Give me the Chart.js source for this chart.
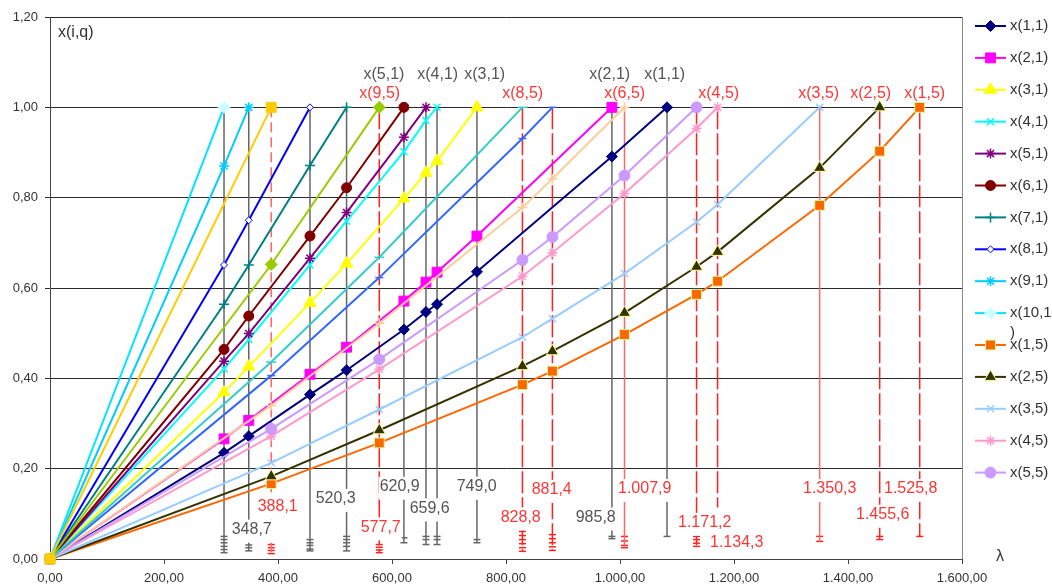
<!DOCTYPE html>
<html>
<head>
<meta charset="utf-8">
<script src="https://cdn.jsdelivr.net/npm/chart.js@4/dist/chart.umd.min.js"></script>
<style>
  html, body { margin: 0; padding: 0; background: #fff; }
  #wrap { width: 1052px; height: 588px; }
</style>
</head>
<body>
<div id="wrap"><canvas id="chart" width="1052" height="588"></canvas></div>
<script>
// lambda values of the vertical lines (q=1 grey, q=5 red)
const lambdaQ1 = [305.3, 348.7, 456.1, 520.3, 620.9, 659.6, 679.0, 749.0, 985.8, 1082.5];
const lambdaQ5 = [388.1, 577.7, 828.8, 881.4, 1007.9, 1134.3, 1171.2, 1350.3, 1455.6, 1525.8];

// x(i,1) at the grey lambdas
const x11 = [0.235, 0.272, 0.364, 0.418, 0.508, 0.547, 0.564, 0.636, 0.891, 1.0];
const x21 = [0.266, 0.307, 0.409, 0.469, 0.571, 0.613, 0.635, 0.715, 1.0];
const x31 = [0.369, 0.426, 0.567, 0.654, 0.798, 0.855, 0.881, 1.0];
const x41 = [0.421, 0.486, 0.651, 0.748, 0.902, 0.971, 1.0];
const x51 = [0.438, 0.499, 0.666, 0.767, 0.934, 1.0];
const x61 = [0.464, 0.538, 0.715, 0.822, 1.0];
const x71 = [0.564, 0.651, 0.871, 1.0];
const x81 = [0.651, 0.750, 1.0];
const x91 = [0.870, 1.0];
const x101 = [1.0];

// x(i,5) at the red lambdas
const x15 = [0.167, 0.257, 0.386, 0.416, 0.497, 0.586, 0.615, 0.783, 0.903, 1.0];
const x25 = [0.183, 0.285, 0.427, 0.460, 0.545, 0.647, 0.680, 0.866, 1.0];
const x35 = [0.213, 0.331, 0.491, 0.532, 0.632, 0.746, 0.785, 1.0];
const x45 = [0.272, 0.420, 0.626, 0.678, 0.809, 0.953, 1.0];
const x55 = [0.288, 0.442, 0.662, 0.713, 0.849, 1.0];
const x65 = [0.340, 0.522, 0.778, 0.842, 1.0];
const x75 = [0.406, 0.623, 0.931, 1.0];
const x85 = [0.436, 0.668, 1.0];
const x95 = [0.652, 1.0];
const x105 = [1.0];

// small end marks at the foot of each vertical line
const capsQ1 = [
    [0.050, 0.043, 0.036, 0.028, 0.021, 0.014],
    [0.031, 0.025, 0.018],
    [0.043, 0.036, 0.030, 0.022, 0.018],
    [0.050, 0.043, 0.036, 0.028, 0.018],
    [0.047, 0.036],
    [0.050, 0.043, 0.032],
    [0.050, 0.043, 0.032],
    [0.043, 0.036],
    [0.050, 0.045],
    [0.050]
];
const capsQ5 = [
    [0.032, 0.025, 0.019, 0.012],
    [0.032, 0.026, 0.020, 0.014],
    [0.061, 0.052, 0.043, 0.034, 0.025, 0.017],
    [0.054, 0.045, 0.036, 0.027, 0.019],
    [0.050, 0.040, 0.030, 0.025],
    [0.050, 0.043, 0.035, 0.028],
    [],
    [0.050, 0.039],
    [0.050, 0.043],
    [0.050]
];
const footQ5_1171 = 0.114;

const seriesNames = ['x(1,1)', 'x(2,1)', 'x(3,1)', 'x(4,1)', 'x(5,1)', 'x(6,1)', 'x(7,1)', 'x(8,1)', 'x(9,1)', 'x(10,1)',
                     'x(1,5)', 'x(2,5)', 'x(3,5)', 'x(4,5)', 'x(5,5)', 'x(6,5)', 'x(7,5)', 'x(8,5)', 'x(9,5)', 'x(10,5)'];
const valuesQ1 = [x11, x21, x31, x41, x51, x61, x71, x81, x91, x101];
const valuesQ5 = [x15, x25, x35, x45, x55, x65, x75, x85, x95, x105];

const valueLabelsQ1 = ['348,7', '520,3', '620,9', '659,6', '749,0', '985,8'];
const valueLabelsQ5 = ['388,1', '577,7', '828,8', '881,4', '1.007,9', '1.171,2', '1.134,3', '1.350,3', '1.455,6', '1.525,8'];

// --- styles / placement (not data) ---
const seriesStyle = [
    { color: '#000080', point: 'rectRot', r: 5.5, fill: '#000080' },
    { color: '#FF00FF', point: 'rect', r: 7, fill: '#FF00FF' },
    { color: '#FFFF00', point: 'triangle', r: 7, fill: '#FFFF00' },
    { color: '#00FFFF', point: 'crossRot', r: 5 },
    { color: '#800080', point: 'star', r: 5 },
    { color: '#800000', point: 'circle', r: 5, fill: '#800000' },
    { color: '#008080', point: 'cross', r: 5 },
    { color: '#0000FF', point: 'rectRot', r: 3.5, fill: '#FFFFFF' },
    { color: '#00CCFF', point: 'star', r: 5 },
    { color: '#00E5FF', point: 'rectRot', r: 6, fill: '#CCFFFF', border: '#CCFFFF' },
    { color: '#FF6600', point: 'rect', r: 7, fill: '#FF6600', border: '#CCFF99' },
    { color: '#333300', point: 'triangle', r: 7, fill: '#333300', border: '#FFFF99' },
    { color: '#99CCFF', point: 'crossRot', r: 5 },
    { color: '#FF99CC', point: 'star', r: 5 },
    { color: '#CC99FF', point: 'circle', r: 5.5, fill: '#CC99FF' },
    { color: '#FFCC99', point: 'cross', r: 5 },
    { color: '#3366FF', point: 'line', r: 4 },
    { color: '#33CCCC', point: 'line', r: 5 },
    { color: '#99CC00', point: 'rectRot', r: 6, fill: '#99CC00' },
    { color: '#FFCC00', point: 'rect', r: 7, fill: '#FFCC00' }
];
const redStyle = [
    { c: '#FF6666', dash: [10, 5] }, { c: '#FF2020', dash: [22, 4] }, { c: '#FF2020', dash: [22, 4] },
    { c: '#FF2020', dash: [22, 4] }, { c: '#FF6666', dash: [] }, { c: '#FF2020', dash: [22, 4] },
    { c: '#FF2020', dash: [22, 4] }, { c: '#FF6666', dash: [] }, { c: '#FF2020', dash: [22, 4] },
    { c: '#FF2020', dash: [22, 4] }
];
const GREY = '#666666';
const GREY_TEXT = '#555555';
const RED_TEXT = '#FF3535';
const FONT = '"Liberation Sans", Arial, sans-serif';

// anchor of each text in axis units [lambda, x]
const valueLabelPos = {
    '348,7': [353.9, 0.065], '520,3': [501.2, 0.133], '620,9': [613.5, 0.160], '659,6': [666.1, 0.112],
    '749,0': [748.6, 0.160], '985,8': [957.4, 0.092], '388,1': [399.5, 0.116], '577,7': [580.2, 0.070],
    '828,8': [825.8, 0.092], '881,4': [880.2, 0.153], '1.007,9': [1043.3, 0.155], '1.171,2': [1148.6, 0.080],
    '1.134,3': [1204.7, 0.036], '1.350,3': [1367.9, 0.155], '1.455,6': [1460.9, 0.098], '1.525,8': [1510.0, 0.155]
};
const nameLabelPos = [
    ['x(5,1)', 585.9, 1.073, GREY_TEXT], ['x(4,1)', 680.2, 1.073, GREY_TEXT], ['x(3,1)', 762.6, 1.073, GREY_TEXT],
    ['x(2,1)', 981.9, 1.073, GREY_TEXT], ['x(1,1)', 1078.4, 1.073, GREY_TEXT],
    ['x(9,5)', 578.4, 1.031, RED_TEXT], ['x(8,5)', 829.3, 1.031, RED_TEXT], ['x(6,5)', 1008.2, 1.031, RED_TEXT],
    ['x(4,5)', 1173.2, 1.031, RED_TEXT], ['x(3,5)', 1348.6, 1.031, RED_TEXT], ['x(2,5)', 1439.8, 1.031, RED_TEXT],
    ['x(1,5)', 1534.6, 1.031, RED_TEXT]
];

function fmtDe(v, dec) {
    const parts = Math.abs(v).toFixed(dec).split('.');
    parts[0] = parts[0].replace(/\B(?=(\d{3})+(?!\d))/g, '.');
    return parts.join(',');
}

function seriesPoints(lams, vals) {
    return [{ x: 0, y: 0 }].concat(vals.map((v, i) => ({ x: lams[i], y: v })));
}

function buildDatasets() {
    const sets = [];

    // vertical lines with their feet
    lambdaQ1.forEach((lam, i) => {
        const foot = Math.min.apply(null, capsQ1[i]);
        sets.push({ type: 'line', data: [{ x: lam, y: 1 }, { x: lam, y: foot }], borderColor: GREY,
            borderWidth: 1.5, pointRadius: 0, order: 300 });
        sets.push({ type: 'line', showLine: false, data: capsQ1[i].map(v => ({ x: lam, y: v })),
            pointStyle: 'line', pointRadius: 3.5, pointBorderWidth: 1.5, borderColor: GREY, order: 300 });
    });
    lambdaQ5.forEach((lam, i) => {
        const caps = capsQ5[i];
        const foot = caps.length ? Math.min.apply(null, caps) : footQ5_1171;
        sets.push({ type: 'line', data: [{ x: lam, y: 1 }, { x: lam, y: foot }], borderColor: redStyle[i].c,
            borderDash: redStyle[i].dash, borderWidth: 1.5, pointRadius: 0, order: 300 });
        if (caps.length) {
            sets.push({ type: 'line', showLine: false, data: caps.map(v => ({ x: lam, y: v })),
                pointStyle: 'line', pointRadius: 3.5, pointBorderWidth: 1.5, borderColor: '#FF2020', order: 300 });
        }
    });

    // the 20 curves, later ones on top
    seriesNames.forEach((name, i) => {
        const st = seriesStyle[i];
        const data = i < 10 ? seriesPoints(lambdaQ1, valuesQ1[i]) : seriesPoints(lambdaQ5, valuesQ5[i - 10]);
        sets.push({
            type: 'line',
            label: name,
            data: data,
            clip: false,
            borderColor: st.color,
            borderWidth: 2,
            pointStyle: st.point,
            pointRadius: st.r,
            pointBackgroundColor: st.fill || st.color,
            pointBorderColor: st.border || st.color,
            pointBorderWidth: st.fill ? 1 : 1.5,
            order: 100 - i
        });
    });
    return sets;
}

const overlayPlugin = {
    id: 'overlay',
    afterDatasetsDraw(chart) {
        const ctx = chart.ctx;
        const xs = chart.scales.x, ys = chart.scales.y;
        const area = chart.chartArea;
        ctx.save();

        // plot area right border
        ctx.strokeStyle = '#888';
        ctx.lineWidth = 1;
        ctx.beginPath();
        ctx.moveTo(area.right + 0.5, area.top);
        ctx.lineTo(area.right + 0.5, area.bottom);
        ctx.stroke();

        ctx.font = '16px ' + FONT;
        ctx.textAlign = 'center';
        ctx.textBaseline = 'middle';

        const drawBoxed = (text, lx, ly, color) => {
            const px = xs.getPixelForValue(lx), py = ys.getPixelForValue(ly);
            const w = ctx.measureText(text).width;
            ctx.fillStyle = '#fff';
            ctx.fillRect(px - w / 2 - 1, py - 10, w + 2, 23);
            ctx.fillStyle = color;
            ctx.fillText(text, px, py);
        };
        valueLabelsQ1.forEach(t => drawBoxed(t, valueLabelPos[t][0], valueLabelPos[t][1], GREY_TEXT));
        valueLabelsQ5.forEach(t => drawBoxed(t, valueLabelPos[t][0], valueLabelPos[t][1], RED_TEXT));

        nameLabelPos.forEach(n => {
            ctx.fillStyle = n[3];
            ctx.fillText(n[0], xs.getPixelForValue(n[1]), ys.getPixelForValue(n[2]));
        });

        // axis captions
        ctx.fillStyle = '#333';
        ctx.textAlign = 'left';
        ctx.fillText('x(i,q)', area.left + 8, area.top + 16);
        ctx.textAlign = 'center';
        ctx.fillText('λ', area.right + 38, area.bottom - 2);

        // legend (only the first 15 entries fit)
        ctx.font = '15px ' + FONT;
        ctx.textAlign = 'left';
        for (let i = 0; i < 15; i++) {
            const st = seriesStyle[i];
            const ly = 26 + i * 31.9;
            ctx.strokeStyle = st.color;
            ctx.lineWidth = 2;
            ctx.setLineDash([]);
            ctx.beginPath();
            ctx.moveTo(975, ly);
            ctx.lineTo(1006, ly);
            ctx.stroke();
            ctx.fillStyle = st.fill || st.color;
            ctx.strokeStyle = st.border || st.color;
            ctx.lineWidth = st.fill ? 1 : 1.5;
            if (Chart.helpers && Chart.helpers.drawPoint) {
                Chart.helpers.drawPoint(ctx, { pointStyle: st.point, radius: st.r, rotation: 0, borderWidth: ctx.lineWidth }, 990.5, ly);
            }
            ctx.fillStyle = '#333';
            let name = seriesNames[i];
            if (name === 'x(10,1)') {
                ctx.fillText('x(10,1', 1010, ly);
                ctx.fillText(')', 1010, ly + 20);
            } else {
                ctx.fillText(name, 1010, ly);
            }
        }
        ctx.restore();
    }
};

new Chart(document.getElementById('chart'), {
    type: 'line',
    data: { datasets: buildDatasets() },
    options: {
        responsive: false,
        animation: false,
        devicePixelRatio: 1,
        layout: { padding: { left: 0, top: 17, right: 90, bottom: 0 } },
        elements: { line: { tension: 0 } },
        plugins: { legend: { display: false }, tooltip: { enabled: false } },
        scales: {
            x: {
                type: 'linear',
                min: 0,
                max: 1600,
                afterFit(s) { s.height = 29; },
                ticks: {
                    stepSize: 200,
                    maxRotation: 0,
                    padding: 7,
                    color: '#333',
                    font: { family: FONT, size: 13 },
                    callback: v => fmtDe(v, 2)
                },
                grid: { drawOnChartArea: false, drawTicks: true, tickLength: 5, color: '#444' },
                border: { color: '#444', width: 1 }
            },
            y: {
                min: 0,
                max: 1.2,
                afterFit(s) { s.width = 50; },
                ticks: {
                    stepSize: 0.2,
                    padding: 7,
                    color: '#333',
                    font: { family: FONT, size: 13 },
                    callback: v => fmtDe(v, 2)
                },
                grid: { color: '#2a2a2a', lineWidth: 1, tickLength: 5 },
                border: { color: '#444', width: 1 }
            }
        }
    },
    plugins: [overlayPlugin]
});
</script>
</body>
</html>
